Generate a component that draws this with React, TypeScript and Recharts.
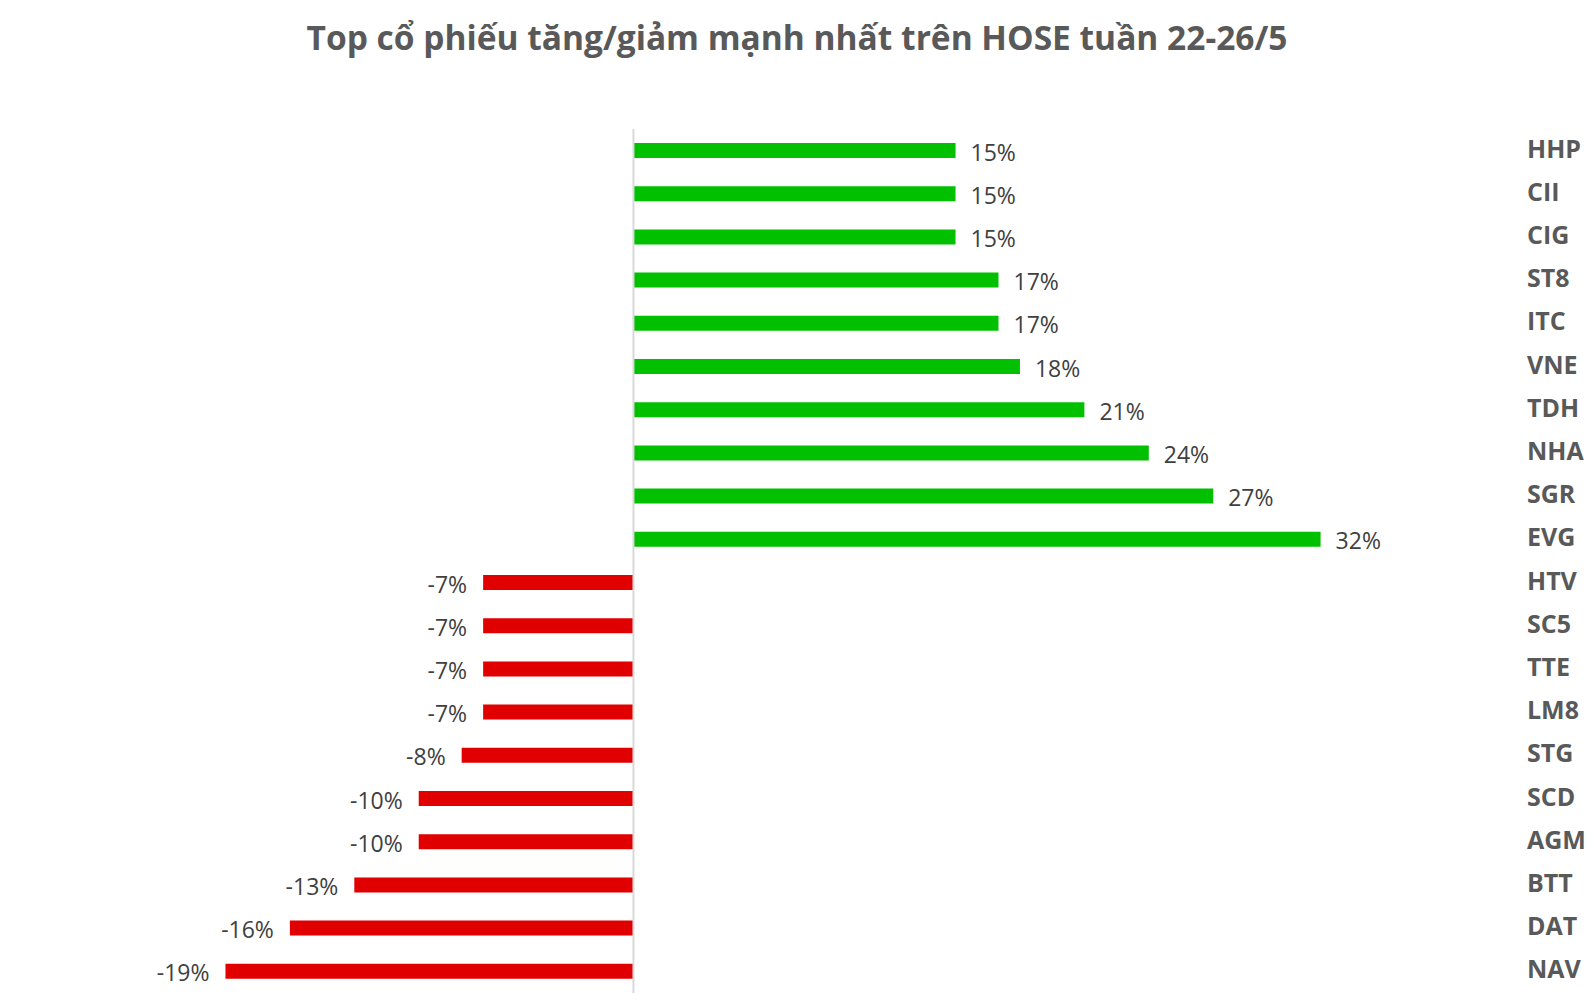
import React from "react";
import { BarChart, Bar, XAxis, YAxis, Cell, LabelList, ReferenceLine } from "recharts";

const tickers = ["HHP","CII","CIG","ST8","ITC","VNE","TDH","NHA","SGR","EVG","HTV","SC5","TTE","LM8","STG","SCD","AGM","BTT","DAT","NAV"];
const changes = [15,15,15,17,17,18,21,24,27,32,-7,-7,-7,-7,-8,-10,-10,-13,-16,-19];
const title = "Top cổ phiếu tăng/giảm mạnh nhất trên HOSE tuần 22-26/5";

const data = tickers.map((t, i) => ({ name: t, value: changes[i] }));

const W = 1594;
const H = 1006;
const FONT = "'Open Sans', 'Noto Sans', sans-serif";
const GREEN = "#00C000";
const RED = "#E00000";
const LABEL_X = 1527;

const renderValueLabel = (props: any) => {
  const { x, y, width, height, value } = props;
  const a = Number(x);
  const b = Number(x) + Number(width);
  const left = Math.min(a, b);
  const right = Math.max(a, b);
  const cy = Number(y) + Number(height) / 2 + 1;
  const pos = Number(value) >= 0;
  return (
    <text
      x={pos ? right + 15 : left - 16}
      y={cy}
      textAnchor={pos ? "start" : "end"}
      dominantBaseline="central"
      fontFamily={FONT}
      fontSize={23}
      fill="#404040"
    >
      {`${value}%`}
    </text>
  );
};

const CategoryTick = (props: any) => {
  const { y, payload } = props;
  return (
    <text
      x={LABEL_X}
      y={Number(y) - 3}
      textAnchor="start"
      dominantBaseline="central"
      fontFamily={FONT}
      fontWeight={700}
      fontSize={25}
      fill="#595959"
    >
      {payload.value}
    </text>
  );
};

export default function App() {
  return (
    <div style={{ position: "absolute", left: 0, top: 0, width: W, height: H, background: "#fff" }}>
      <div
        style={{
          position: "absolute",
          left: 0,
          top: 14,
          width: W,
          textAlign: "center",
          fontFamily: FONT,
          fontWeight: 700,
          fontSize: 33.5,
          color: "#595959",
          lineHeight: "46px",
        }}
      >
        {title}
      </div>
      <BarChart
        width={W}
        height={H}
        data={data}
        layout="vertical"
        margin={{ top: 129, right: 0, bottom: 13, left: 204 }}
        barCategoryGap={0}
      >
        <XAxis type="number" domain={[-20, 35]} hide allowDataOverflow />
        <YAxis
          type="category"
          dataKey="name"
          orientation="right"
          width={209}
          axisLine={false}
          tickLine={false}
          tick={<CategoryTick />}
          interval={0}
        />
        <Bar dataKey="value" barSize={15} isAnimationActive={false}>
          {data.map((d, i) => (
            <Cell key={i} fill={d.value >= 0 ? GREEN : RED} />
          ))}
          <LabelList dataKey="value" content={renderValueLabel} />
        </Bar>
        <ReferenceLine x={0} stroke="#D9D9D9" strokeWidth={2} />
      </BarChart>
    </div>
  );
}
